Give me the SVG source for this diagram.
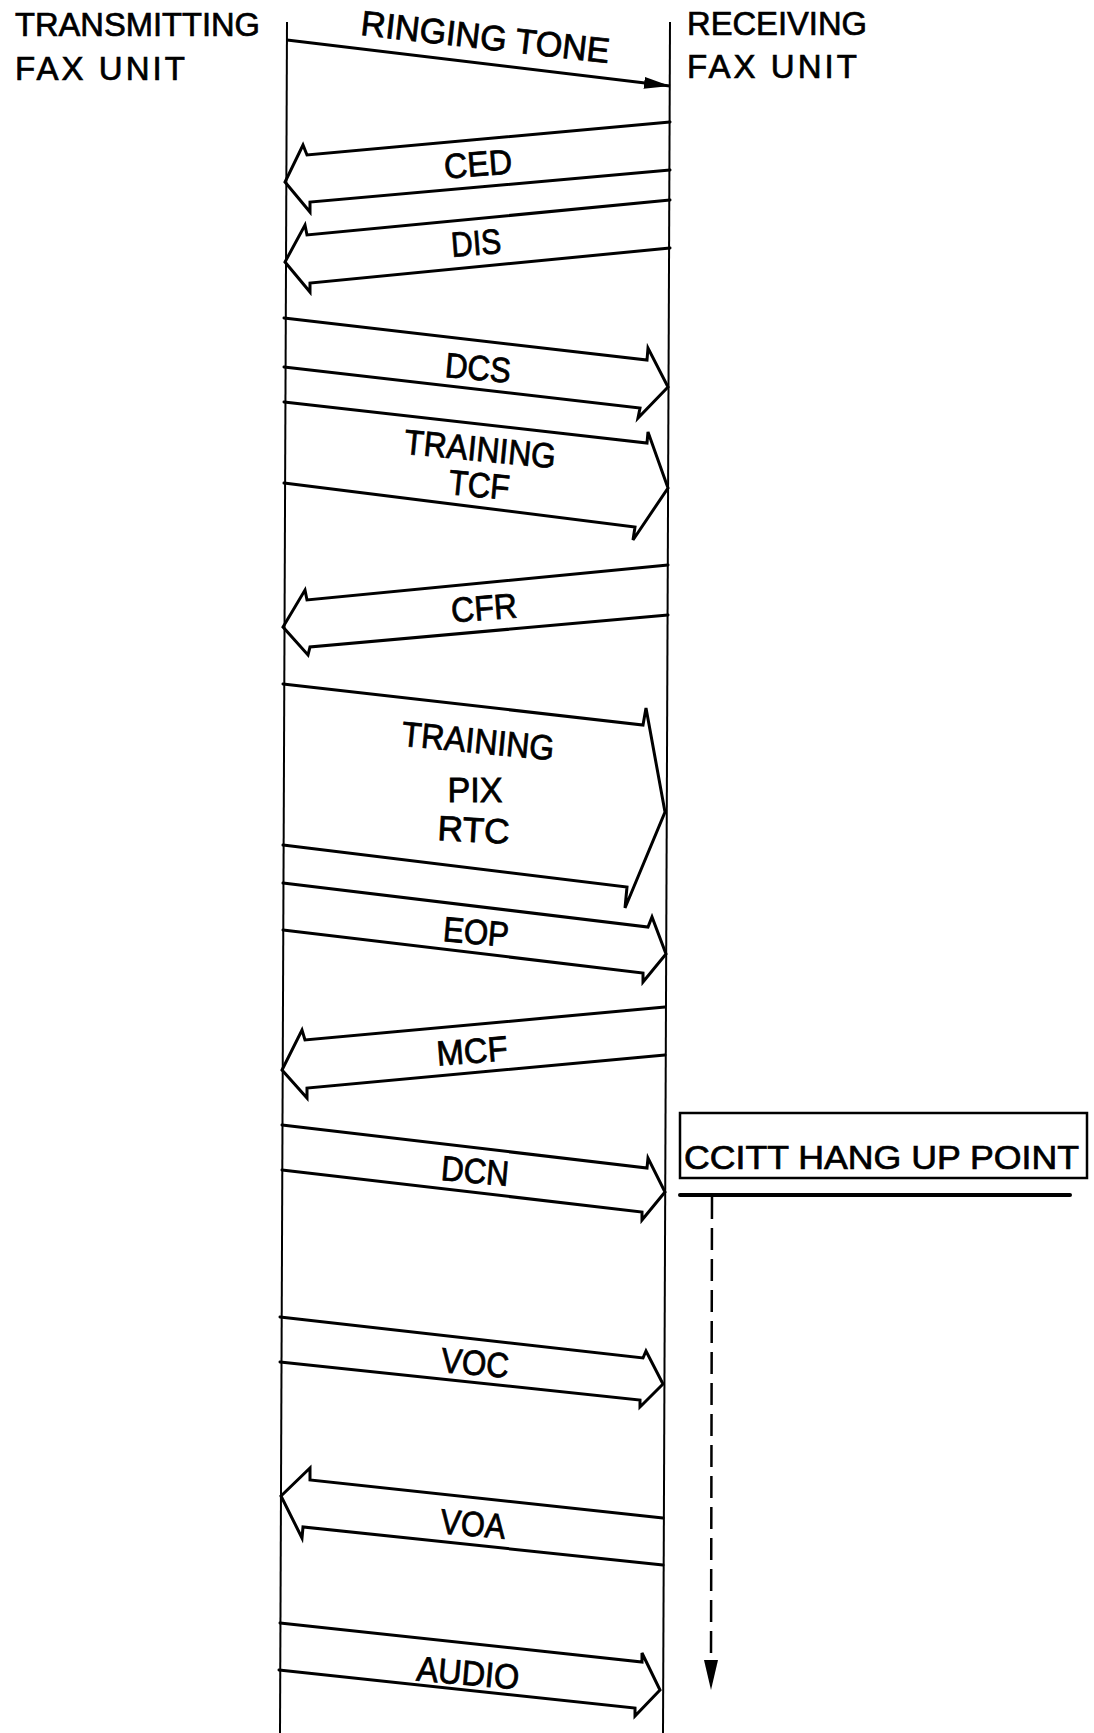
<svg xmlns="http://www.w3.org/2000/svg" width="1094" height="1733" viewBox="0 0 1094 1733">
<style>
  .bg{fill:#fff}
  .life{stroke:#000;stroke-width:2;fill:none}
  .msg{stroke:#000;stroke-width:3;fill:none;stroke-linejoin:miter;stroke-linecap:round}
  .hdr{font-family:"Liberation Sans",Arial,sans-serif;font-size:33px;fill:#000;stroke:#000;stroke-width:0.7}
  .lbl{font-family:"Liberation Sans",Arial,sans-serif;font-size:35px;fill:#000;stroke:#000;stroke-width:0.8;text-anchor:middle}
  .box{stroke:#000;stroke-width:2.5;fill:none}
  .dash{stroke:#000;stroke-width:2.5;fill:none;stroke-dasharray:22 9}
</style>
<defs>
  <marker id="solidHead" markerWidth="28" markerHeight="12" refX="26" refY="6" orient="auto" markerUnits="userSpaceOnUse">
    <path d="M0,0 L26,6 L0,12 Z" fill="#000"/>
  </marker>
</defs>
<rect class="bg" x="0" y="0" width="1094" height="1733"/>

<g id="transmitting-fax-unit">
  <text class="hdr" x="15" y="36" textLength="245" lengthAdjust="spacingAndGlyphs">TRANSMITTING</text>
  <text class="hdr" x="15" y="80" textLength="170" lengthAdjust="spacing">FAX UNIT</text>
  <line class="life" x1="287" y1="22" x2="280" y2="1733"/>
</g>

<g id="receiving-fax-unit">
  <text class="hdr" x="687" y="35" textLength="180" lengthAdjust="spacingAndGlyphs">RECEIVING</text>
  <text class="hdr" x="687" y="78" textLength="170" lengthAdjust="spacing">FAX UNIT</text>
  <line class="life" x1="670" y1="22" x2="663" y2="1733"/>
</g>

<g id="ccitt-hang-up-point">
  <rect class="box" x="680" y="1113" width="407" height="65"/>
  <text class="hdr" x="684" y="1169" font-size="41" textLength="395" lengthAdjust="spacingAndGlyphs">CCITT HANG UP POINT</text>
  <line x1="680" y1="1195" x2="1070" y2="1195" stroke="#000" stroke-width="4" stroke-linecap="round"/>
</g>

<g id="connectors">
  <g id="ringing-tone">
    <line x1="287" y1="40" x2="670" y2="86" stroke="#000" stroke-width="3" marker-end="url(#solidHead)"/>
    <text class="lbl" x="484" y="49" transform="rotate(6.5 484 49)" textLength="250" lengthAdjust="spacingAndGlyphs">RINGING TONE</text>
  </g>
  <g id="ced">
    <path class="msg" d="M670,122 L307,155 L303,145 L285,182 L310,212 L310,202 L670,170"/>
    <text class="lbl" x="479" y="176" transform="rotate(-4.5 479 176)" textLength="68" lengthAdjust="spacingAndGlyphs">CED</text>
  </g>
  <g id="dis">
    <path class="msg" d="M670,200 L307,235 L305,225 L285,262 L310,292 L310,283 L670,248"/>
    <text class="lbl" x="477" y="255" transform="rotate(-4.5 477 255)" textLength="50" lengthAdjust="spacingAndGlyphs">DIS</text>
  </g>
  <g id="dcs">
    <path class="msg" d="M284,318 L647,360 L648,348 L668,387 L638,418 L640,408 L284,367"/>
    <text class="lbl" x="477" y="380" transform="rotate(5 477 380)" textLength="66" lengthAdjust="spacingAndGlyphs">DCS</text>
  </g>
  <g id="training-tcf">
    <path class="msg" d="M284,402 L647,443 L648,432 L668,488 L633,540 L635,527 L284,483"/>
    <text class="lbl" x="479" y="461" transform="rotate(5.5 479 461)" textLength="152" lengthAdjust="spacingAndGlyphs">TRAINING</text>
    <text class="lbl" x="478" y="497" transform="rotate(5.5 478 497)" textLength="61" lengthAdjust="spacingAndGlyphs">TCF</text>
  </g>
  <g id="cfr">
    <path class="msg" d="M668,565 L307,600 L305,590 L283,627 L308,655 L310,647 L668,615"/>
    <text class="lbl" x="485" y="620" transform="rotate(-4.5 485 620)" textLength="66" lengthAdjust="spacingAndGlyphs">CFR</text>
  </g>
  <g id="training-pix-rtc">
    <path class="msg" d="M283,684 L643,725 L646,708 L665,812 L625,908 L627,887 L283,845"/>
    <text class="lbl" x="477" y="753" transform="rotate(5.5 477 753)" textLength="153" lengthAdjust="spacingAndGlyphs">TRAINING</text>
    <text class="lbl" x="475" y="802" textLength="55" lengthAdjust="spacingAndGlyphs">PIX</text>
    <text class="lbl" x="473" y="842" transform="rotate(3 473 842)" textLength="72" lengthAdjust="spacingAndGlyphs">RTC</text>
  </g>
  <g id="eop">
    <path class="msg" d="M283,883 L648,927 L652,917 L666,954 L643,982 L643,973 L283,930"/>
    <text class="lbl" x="475" y="944" transform="rotate(5 475 944)" textLength="66" lengthAdjust="spacingAndGlyphs">EOP</text>
  </g>
  <g id="mcf">
    <path class="msg" d="M665,1007 L305,1040 L302,1030 L282,1070 L307,1098 L307,1088 L665,1055"/>
    <text class="lbl" x="473" y="1063" transform="rotate(-4.5 473 1063)" textLength="71" lengthAdjust="spacingAndGlyphs">MCF</text>
  </g>
  <g id="dcn">
    <path class="msg" d="M282,1125 L647,1168 L648,1158 L665,1192 L642,1220 L642,1212 L282,1170"/>
    <text class="lbl" x="474" y="1183" transform="rotate(5 474 1183)" textLength="68" lengthAdjust="spacingAndGlyphs">DCN</text>
  </g>
  <g id="voc">
    <path class="msg" d="M280,1317 L643,1358 L646,1351 L663,1384 L640,1407 L640,1400 L280,1362"/>
    <text class="lbl" x="474" y="1375" transform="rotate(5 474 1375)" textLength="68" lengthAdjust="spacingAndGlyphs">VOC</text>
  </g>
  <g id="voa">
    <path class="msg" d="M663,1518 L310,1480 L310,1468 L281,1496 L302,1538 L303,1527 L663,1565"/>
    <text class="lbl" x="472" y="1536" transform="rotate(5 472 1536)" textLength="65" lengthAdjust="spacingAndGlyphs">VOA</text>
  </g>
  <g id="audio">
    <path class="msg" d="M280,1623 L642,1662 L642,1653 L660,1690 L635,1716 L635,1708 L279,1670"/>
    <text class="lbl" x="467" y="1685" transform="rotate(5 467 1685)" textLength="103" lengthAdjust="spacingAndGlyphs">AUDIO</text>
  </g>
  <g id="hang-up-continuation">
    <line class="dash" x1="712" y1="1197" x2="711" y2="1662"/>
    <path d="M704,1660 L718,1660 L711,1690 Z" fill="#000"/>
  </g>
</g>
</svg>
